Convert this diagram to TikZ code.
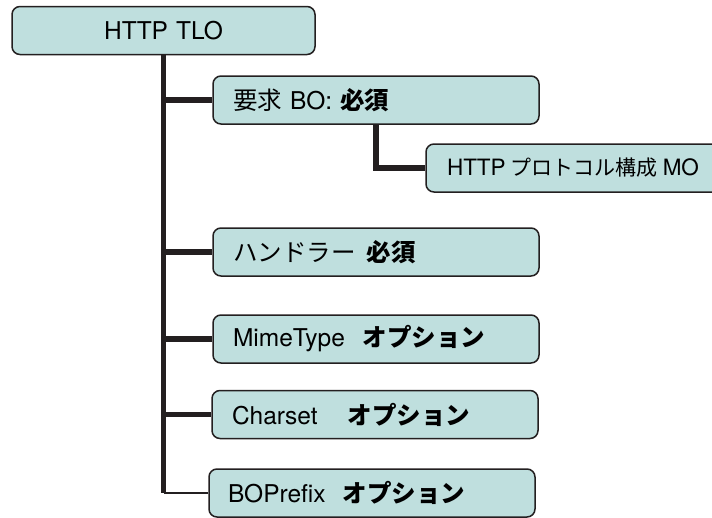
\documentclass[tikz,border=0pt]{standalone}
\usepackage{fontspec}
\setmainfont{TeX Gyre Heros}
\newfontfamily\jp{Noto Sans CJK JP}
\definecolor{boxfill}{RGB}{191,223,222}
\definecolor{boxline}{RGB}{35,31,32}

\begin{document}
\begin{tikzpicture}[x=1pt,y=-1pt,
		box/.style={draw=boxline, line width=1.5pt, fill=boxfill, rounded corners=8pt, minimum height=48pt, text width=286pt, inner xsep=20pt, align=left, font=\fontsize{24.5}{29}\selectfont},
		link/.style={boxline, line width=5.5pt},
		thinlink/.style={boxline, line width=1.2pt}]
		\useasboundingbox (0,0) rectangle (712,517);
		\node[box, text width=263pt, align=center] (tlo) at (163.5,30.5) {HTTP TLO\hspace{18pt}};
		\node[box] (req) at (376,100) {{\jp 要求} BO: {\jp\bfseries 必須}};
		\node[box, text width=320pt, inner xsep=21pt, font=\fontsize{22.5}{27}\selectfont] (mo) at (607,168) {HTTP\hspace{5pt}{\jp\fontsize{21}{27}\selectfont プロトコル構成}\hspace{5pt}MO};
		\node[box] (handler) at (376,252) {{\jp ハンドラー\hspace{11pt}\bfseries 必須}};
		\node[box] (mime) at (376,339) {MimeType\hspace{18pt}{\jp\bfseries オプション}};
		\node[box] (charset) at (375,414.5) {Charset\hspace{30pt}{\jp\bfseries オプション}};
		\node[box, inner xsep=19pt, text width=288pt] (prefix) at (372,493) {BOPrefix\hspace{17pt}{\jp\bfseries オプション}};
		\coordinate (trunkend) at (tlo.south |- prefix.west);
		\draw[link] (tlo.south) -- (trunkend);
		\draw[link] (tlo.south) |- (req.west);
		\draw[link] (tlo.south) |- (handler.west);
		\draw[link] (tlo.south) |- (mime.west);
		\draw[link] (tlo.south) |- (charset.west);
		\draw[thinlink] (trunkend) -- (prefix.west);
		\draw[link] (req.south) |- (mo.west);
	\end{tikzpicture}
\end{document}
